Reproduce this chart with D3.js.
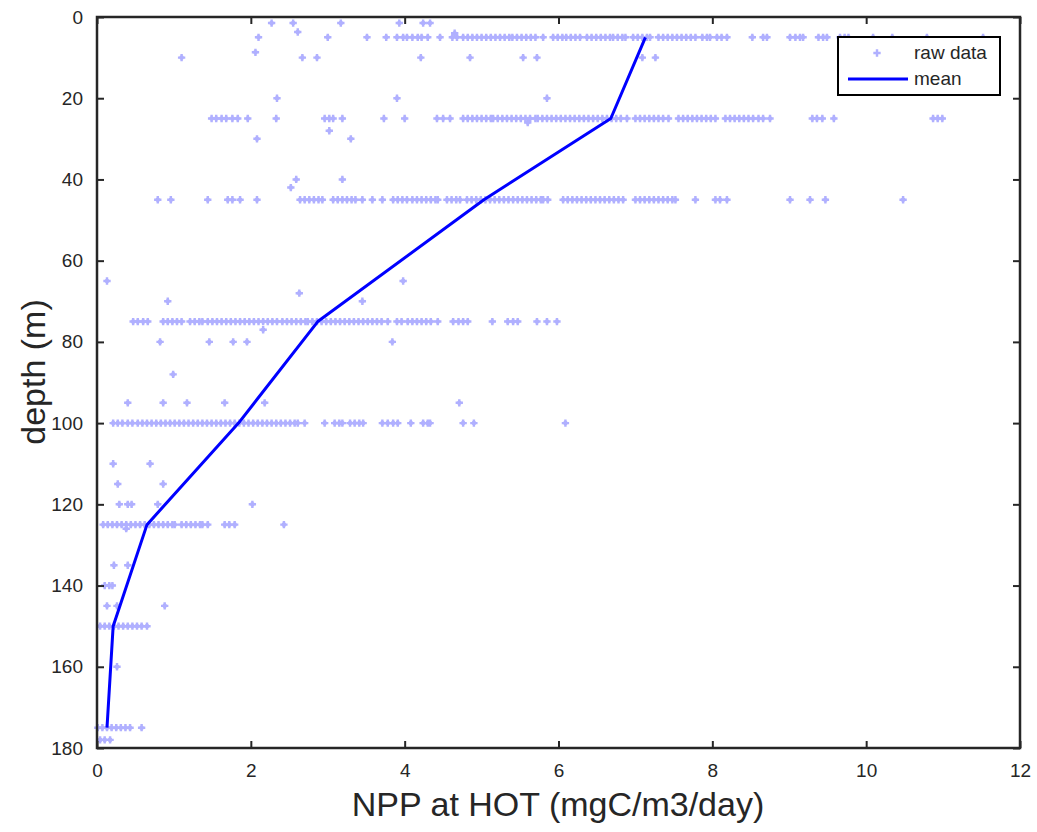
<!DOCTYPE html>
<html>
<head>
<meta charset="utf-8">
<script src="https://d3js.org/d3.v7.min.js"></script>
<style>
  body { margin: 0; background: #fff; }
  text { font-family: "Liberation Sans", Arial, Helvetica, sans-serif; }
</style>
</head>
<body>
<svg width="1037" height="832"></svg>
<script>
// NPP profile at HOT: raw samples by depth level, plus the mean profile

var xTicks = [0, 2, 4, 6, 8, 10, 12];
var yTicks = [0, 20, 40, 60, 80, 100, 120, 140, 160, 180];

// mean profile
var meanDepth = [5, 25, 45, 75, 100, 125, 150, 175];
var meanNPP   = [7.13, 6.68, 5.03, 2.87, 1.84, 0.65, 0.21, 0.13];

// raw samples on the standard depth levels
var raw5 = [2.1, 3.0, 3.51, 3.76, 3.9, 3.98, 4.03, 4.1, 4.17, 4.22, 4.3, 4.46, 4.62, 4.68, 4.76, 4.82, 4.88, 4.94, 5.0, 5.06,
  5.12, 5.18, 5.24, 5.3, 5.36, 5.4, 5.46, 5.52, 5.58, 5.64, 5.7, 5.8, 5.93, 5.99, 6.05, 6.1, 6.16, 6.22, 6.28, 6.37, 6.43,
  6.49, 6.55, 6.61, 6.67, 6.71, 6.77, 6.83, 6.87, 6.97, 7.03, 7.09, 7.15, 7.19, 7.3, 7.36, 7.42, 7.48, 7.54, 7.6, 7.66,
  7.72, 7.78, 7.87, 7.93, 7.97, 8.06, 8.12, 8.19, 8.52, 8.66, 8.71, 9.01, 9.08, 9.14, 9.18, 9.38, 9.44, 9.49, 9.66, 9.72,
  9.77, 10.09, 10.34, 10.79, 11.52];
var raw25 = [1.49, 1.55, 1.62, 1.68, 1.76, 1.83, 1.96, 2.33, 2.96, 3.02, 3.07, 3.19, 3.73, 4.0, 4.42, 4.5, 4.59, 4.76, 4.82,
  4.88, 4.94, 5.0, 5.06, 5.12, 5.15, 5.21, 5.27, 5.33, 5.39, 5.45, 5.51, 5.57, 5.63, 5.7, 5.73, 5.79, 5.85, 5.91, 5.97,
  6.03, 6.09, 6.15, 6.21, 6.27, 6.33, 6.39, 6.45, 6.51, 6.57, 6.63, 6.69, 6.75, 6.81, 6.89, 7.0, 7.06, 7.12, 7.18, 7.24,
  7.3, 7.36, 7.43, 7.56, 7.62, 7.68, 7.74, 7.8, 7.86, 7.92, 7.98, 8.04, 8.17, 8.23, 8.29, 8.35, 8.41, 8.47, 8.53, 8.6,
  8.66, 8.75, 9.3, 9.36, 9.43, 9.58, 10.87, 10.93, 10.99];
var raw45 = [0.79, 0.96, 1.44, 1.7, 1.76, 1.86, 2.08, 2.64, 2.7, 2.76, 2.82, 2.88, 2.93, 3.07, 3.13, 3.19, 3.25, 3.31, 3.36,
  3.45, 3.58, 3.71, 3.85, 3.91, 3.97, 4.03, 4.1, 4.16, 4.22, 4.28, 4.34, 4.4, 4.43, 4.55, 4.61, 4.67, 4.72, 4.81, 4.87,
  4.93, 4.99, 5.05, 5.11, 5.17, 5.23, 5.29, 5.35, 5.41, 5.47, 5.53, 5.59, 5.65, 5.71, 5.77, 5.8, 5.86, 6.06, 6.12, 6.18,
  6.24, 6.3, 6.36, 6.42, 6.48, 6.54, 6.6, 6.66, 6.72, 6.78, 6.84, 7.0, 7.06, 7.12, 7.18, 7.24, 7.3, 7.36, 7.42, 7.48,
  7.52, 7.78, 8.04, 8.1, 8.19, 9.01, 9.27, 9.47, 10.48];
var raw75 = [0.47, 0.53, 0.6, 0.66, 0.86, 0.92, 0.98, 1.04, 1.1, 1.21, 1.27, 1.33, 1.37, 1.44, 1.5, 1.56, 1.62, 1.68, 1.74,
  1.8, 1.86, 1.92, 1.98, 2.04, 2.1, 2.16, 2.22, 2.28, 2.34, 2.41, 2.47, 2.53, 2.59, 2.65, 2.71, 2.74, 2.8, 2.86, 2.92,
  2.98, 3.04, 3.1, 3.16, 3.22, 3.28, 3.34, 3.4, 3.46, 3.52, 3.58, 3.64, 3.7, 3.78, 3.9, 3.96, 4.04, 4.1, 4.16, 4.22, 4.28,
  4.34, 4.43, 4.63, 4.7, 4.76, 4.82, 5.14, 5.34, 5.41, 5.47, 5.72, 5.85, 5.98];
var raw100 = [0.21, 0.27, 0.33, 0.4, 0.46, 0.53, 0.59, 0.65, 0.71, 0.77, 0.83, 0.89, 0.95, 1.01, 1.07, 1.13, 1.19, 1.25,
  1.31, 1.37, 1.43, 1.49, 1.55, 1.61, 1.67, 1.73, 1.79, 1.85, 1.91, 1.97, 2.03, 2.09, 2.15, 2.21, 2.27, 2.33, 2.39, 2.45,
  2.51, 2.57, 2.61, 2.7, 2.96, 3.09, 3.15, 3.19, 3.29, 3.35, 3.41, 3.46, 3.71, 3.78, 3.85, 3.91, 4.08, 4.24, 4.3, 4.33,
  4.76, 4.9, 6.09];
var raw125 = [0.08, 0.14, 0.2, 0.26, 0.32, 0.38, 0.44, 0.5, 0.56, 0.62, 0.68, 0.74, 0.8, 0.86, 0.92, 0.98, 1.01, 1.1, 1.16,
  1.22, 1.28, 1.34, 1.37, 1.44, 1.66, 1.72, 1.79, 2.43];
var raw150 = [0.04, 0.1, 0.16, 0.22, 0.28, 0.34, 0.4, 0.46, 0.52, 0.58, 0.65];
var raw175 = [0.01, 0.07, 0.13, 0.19, 0.25, 0.31, 0.37, 0.43, 0.58];

// samples off the standard levels
var oddX     = [2.27, 2.55, 3.17, 3.93, 4.24, 4.33, 2.61, 4.65, 1.1, 2.06, 2.67, 2.86, 4.21, 4.85, 5.54, 5.72, 7.09, 7.26,
  2.34, 3.9, 5.85, 5.6, 3.02, 2.08, 3.3, 2.59, 3.19, 2.52, 0.13, 3.98, 2.63, 0.92, 3.45, 2.16, 0.82, 1.46, 1.77, 1.95,
  3.84, 0.99, 0.4, 0.86, 1.17, 1.66, 2.18, 4.71, 0.21, 0.69, 0.27, 0.86, 0.29, 0.4, 0.45, 0.79, 2.02, 0.38, 0.22, 0.4,
  0.1, 0.16, 0.2, 0.13, 0.26, 0.88, 0.26, 0.04, 0.1, 0.17];
var oddDepth = [1.5, 1.5, 1.5, 1.5, 1.5, 1.5, 3.7, 4, 10, 8.7, 10, 10, 10, 10, 10, 10, 10, 10,
  20, 20, 20, 26, 28, 30, 30, 40, 40, 42, 65, 65, 68, 70, 70, 77, 80, 80, 80, 80,
  80, 88, 95, 95, 95, 95, 95, 95, 110, 110, 115, 115, 120, 120, 120, 120, 120, 126, 135, 135,
  140, 140, 140, 145, 145, 145, 160, 178, 178, 178];

var rawLevels = [[5, raw5], [25, raw25], [45, raw45], [75, raw75], [100, raw100], [125, raw125], [150, raw150], [175, raw175]];
var points = [];
rawLevels.forEach(function(l) {
    l[1].forEach(function(v) { points.push({x: v, d: l[0]}); });
});
oddX.forEach(function(v, i) { points.push({x: v, d: oddDepth[i]}); });

// plot box (note: "top" is reserved on window, so use own names)
var pLeft = 97, pTop = 17, pRight = 1020, pBottom = 748;

var scaleX = d3.scaleLinear().domain([0, 12]).range([pLeft, pRight]);
var scaleY = d3.scaleLinear().domain([0, 180]).range([pTop, pBottom]);   // depth grows downward

var svg = d3.select('svg');

var rawColor = '#b0b0ff';
var cross = d3.symbol().type(d3.symbolCross).size(30);

var rawG = svg.append('g');
rawG.selectAll('path')
    .data(points)
    .enter()
    .append('path')
    .attr('d', cross)
    .attr('transform', function(d) { return 'translate(' + scaleX(d.x) + ',' + scaleY(d.d) + ')'; })
    .attr('fill', rawColor);
// soft core so the markers read as blobs like the original
rawG.selectAll('circle')
    .data(points)
    .enter()
    .append('circle')
    .attr('cx', function(d) { return scaleX(d.x); })
    .attr('cy', function(d) { return scaleY(d.d); })
    .attr('r', 2.3)
    .attr('fill', rawColor);

var line = d3.line()
    .x(function(d, i) { return scaleX(meanNPP[i]); })
    .y(function(d) { return scaleY(d); });

svg.append('path')
    .datum(meanDepth)
    .attr('d', line)
    .attr('fill', 'none')
    .attr('stroke', '#0000ff')
    .attr('stroke-width', 3)
    .attr('stroke-linejoin', 'round');

// axes, ticks pointing inward on all four sides
function styleAxis(g) {
    g.select('.domain').remove();
    g.selectAll('line').attr('stroke', '#262626').attr('stroke-width', 2);
    g.selectAll('text').attr('fill', '#262626').attr('font-size', 19)
        .attr('font-family', '"Liberation Sans", Arial, sans-serif');
}

svg.append('g')
    .attr('transform', 'translate(0,' + pBottom + ')')
    .call(d3.axisBottom(scaleX).tickValues(xTicks).tickSize(-7).tickPadding(16))
    .call(styleAxis);
svg.append('g')
    .attr('transform', 'translate(0,' + pTop + ')')
    .call(d3.axisTop(scaleX).tickValues(xTicks).tickSize(-7).tickFormat(''))
    .call(styleAxis);
svg.append('g')
    .attr('transform', 'translate(' + pLeft + ',0)')
    .call(d3.axisLeft(scaleY).tickValues(yTicks).tickSize(-7).tickPadding(14))
    .call(styleAxis);
svg.append('g')
    .attr('transform', 'translate(' + pRight + ',0)')
    .call(d3.axisRight(scaleY).tickValues(yTicks).tickSize(-7).tickFormat(''))
    .call(styleAxis);

svg.append('rect')
    .attr('x', pLeft).attr('y', pTop)
    .attr('width', pRight - pLeft).attr('height', pBottom - pTop)
    .attr('fill', 'none')
    .attr('stroke', '#262626')
    .attr('stroke-width', 2.5);

// axis titles
svg.append('text')
    .attr('x', 558)
    .attr('y', 816)
    .attr('text-anchor', 'middle')
    .attr('font-size', 34)
    .attr('fill', '#262626')
    .text('NPP at HOT (mgC/m3/day)');

svg.append('text')
    .attr('transform', 'translate(45,372) rotate(-90)')
    .attr('text-anchor', 'middle')
    .attr('font-size', 34)
    .attr('fill', '#262626')
    .text('depth (m)');

// legend
var lg = svg.append('g').attr('transform', 'translate(838,37)');
lg.append('rect')
    .attr('width', 162).attr('height', 58)
    .attr('fill', '#fff')
    .attr('stroke', '#000')
    .attr('stroke-width', 2);
lg.append('path')
    .attr('d', cross)
    .attr('transform', 'translate(39,16)')
    .attr('fill', rawColor);
lg.append('text')
    .attr('x', 76).attr('y', 22)
    .attr('font-size', 19)
    .attr('fill', '#262626')
    .text('raw data');
lg.append('line')
    .attr('x1', 10).attr('x2', 70)
    .attr('y1', 42).attr('y2', 42)
    .attr('stroke', '#0000ff')
    .attr('stroke-width', 3);
lg.append('text')
    .attr('x', 76).attr('y', 48)
    .attr('font-size', 19)
    .attr('fill', '#262626')
    .text('mean');
</script>
</body>
</html>
